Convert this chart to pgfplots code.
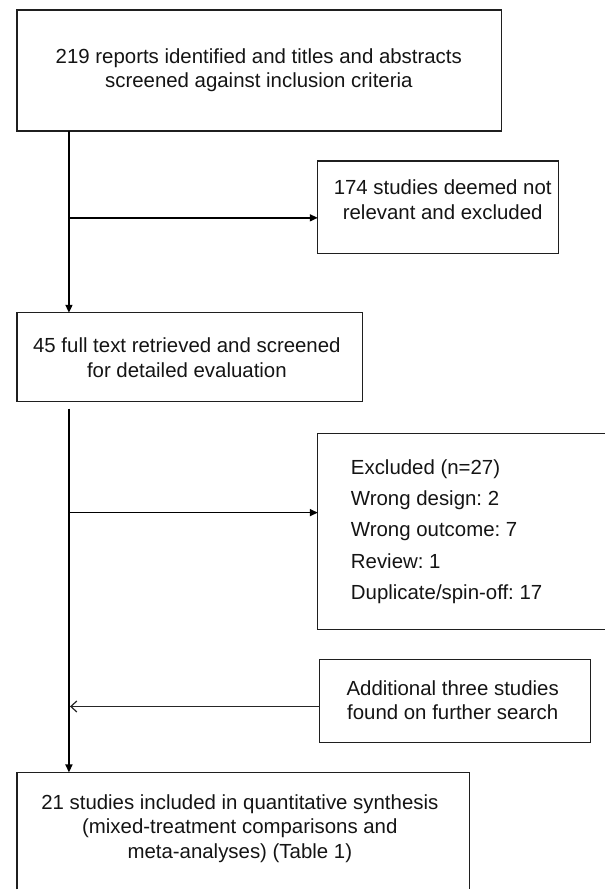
\documentclass[border=0pt]{standalone}
\usepackage{pgfplots}
\pgfplotsset{compat=1.18}
\usepackage{fontspec}
\setmainfont{Liberation Sans}
\usetikzlibrary{arrows.meta}
\frenchspacing
\begin{document}
\begin{tikzpicture}[
  boxline/.style={black!88, line width=1.3bp, line join=miter},
  conn/.style={black, line width=1.6bp},
  txt/.style={text=black!92, font=\fontsize{20.5}{24.5}\selectfont, align=center, inner sep=0pt},
]
\begin{axis}[
  width=605bp, height=890bp, scale only axis,
  xmin=0, xmax=605, ymin=0, ymax=890, y dir=reverse,
  hide axis, clip=false,
]
% ---- invisible frame keeps the full page size ----
\addplot[draw=none] coordinates {(0,0) (605,0) (605,890) (0,890)};
% ---- boxes (pixel coordinates of the reference) ----
\addplot[boxline] coordinates {(17,10) (502,10) (502,131) (17,131) (17,10) (502,10)};
\addplot[boxline] coordinates {(318,161) (559,161) (559,254) (318,254) (318,161) (559,161)};
\addplot[boxline] coordinates {(17,313) (363,313) (363,402) (17,402) (17,313) (363,313)};
\addplot[boxline] coordinates {(605,434) (318,434) (318,630) (605,630)};
\addplot[boxline] coordinates {(320,660) (591,660) (591,743) (320,743) (320,660) (591,660)};
\addplot[boxline] coordinates {(17,890) (17,773) (470,773) (470,890)};
% ---- connectors ----
\addplot[conn, -{Triangle[length=8bp,width=7bp]}] coordinates {(69,131) (69,313)};
\addplot[conn, -{Triangle[length=8bp,width=7bp]}] coordinates {(69,218) (318,218)};
\addplot[conn, -{Triangle[length=8bp,width=7bp]}] coordinates {(69,409) (69,773)};
\addplot[conn, -{Triangle[length=8bp,width=7bp]}] coordinates {(69,513) (318,513)};
\addplot[black!85, line width=1.2bp, -{Straight Barb[length=6bp,width=11bp]}] coordinates {(320,707) (70,707)};
% ---- texts ----
\node[txt] at (axis cs:259,70) {219 reports identified and titles and abstracts\\screened against inclusion criteria};
\node[txt] at (axis cs:443,200) {174 studies deemed not\\relevant and excluded};
\node[txt] at (axis cs:187,358) {45 full text retrieved and screened\\for detailed evaluation};
\node[txt, anchor=west, align=left, font=\fontsize{20.5}{31.5}\selectfont] at (axis cs:351,532) {Excluded (n=27)\\Wrong design: 2\\Wrong outcome: 7\\Review: 1\\Duplicate/spin-off: 17};
\node[txt] at (axis cs:453,701) {Additional three studies\\found on further search};
\node[txt] at (axis cs:240,829) {21 studies included in quantitative synthesis\\(mixed-treatment comparisons and\\meta-analyses) (Table 1)};
\end{axis}
\end{tikzpicture}
\end{document}
